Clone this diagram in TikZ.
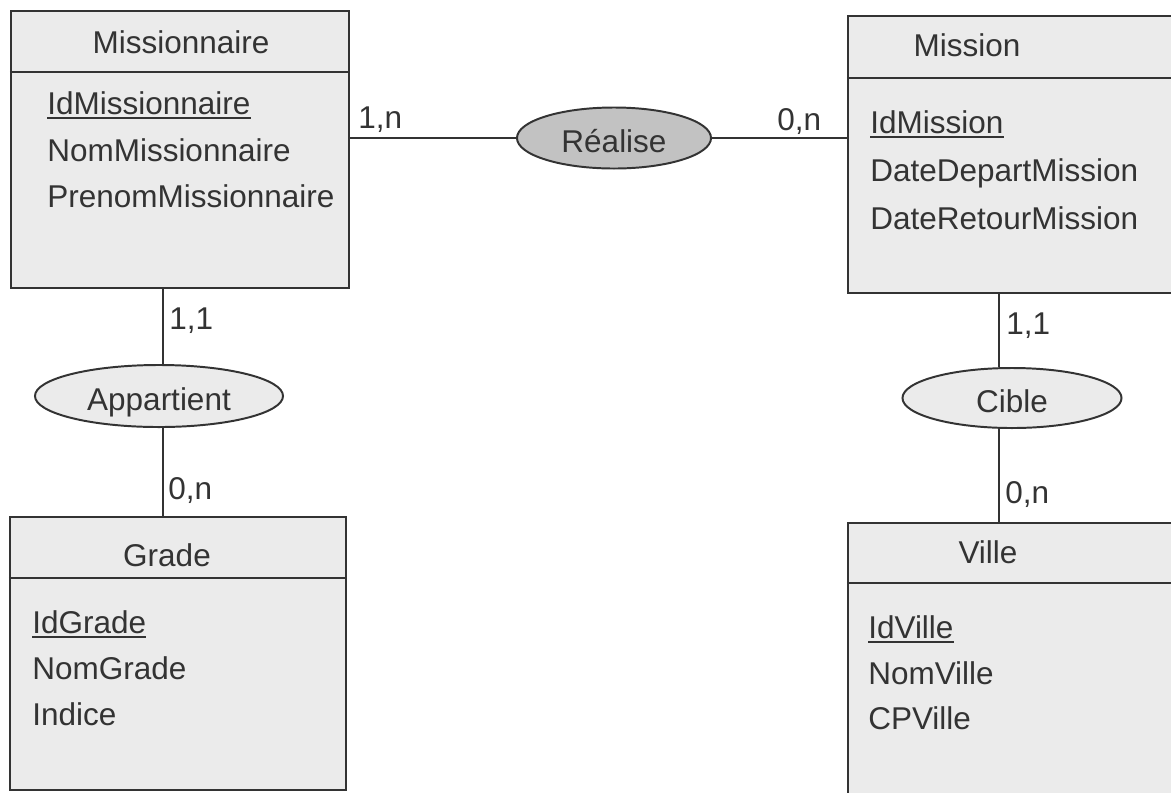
\documentclass[tikz,border=0pt]{standalone}
\usepackage{fontspec}
\setmainfont{Liberation Sans}
\usetikzlibrary{shapes.geometric}
\definecolor{inkc}{HTML}{333333}
\definecolor{boxfill}{HTML}{EBEBEB}
\definecolor{darkfill}{HTML}{C2C2C2}
\tikzset{entity/.style={draw=inkc, fill=boxfill, line width=1.4pt, inner sep=0pt},
         relation/.style={ellipse, draw=inkc, fill=boxfill, line width=1.4pt,
            inner sep=0pt, text=inkc, text height=20pt, text depth=0pt,
            font=\fontsize{22.4}{27}\selectfont},
         txt/.style={inner sep=0pt, text=inkc, font=\fontsize{22.4}{27}\selectfont},
         link/.style={draw=inkc, line width=1.3pt},
         keyline/.style={draw=inkc, line width=1.1pt}}

\begin{document}
\begin{tikzpicture}[x=0.025cm, y=-0.025cm]
        \useasboundingbox (0,0) rectangle (1171,792);

        % Entities
        \node[entity, minimum width=8.45cm, minimum height=6.925cm] (missionnaire) at (180,149.5) {};
        \node[entity, minimum width=8.425cm, minimum height=6.925cm] (mission) at (1016.5,154.5) {};
        \node[entity, minimum width=8.4cm, minimum height=6.825cm] (grade) at (178,653.5) {};
        \node[entity, minimum width=8.425cm, minimum height=6.925cm] (ville) at (1016.5,661.5) {};

        % Header lines
        \draw[link] (missionnaire.west |- 0,72) -- (missionnaire.east |- 0,72);
        \draw[link] (mission.west |- 0,78) -- (mission.east |- 0,78);
        \draw[link] (grade.west |- 0,578) -- (grade.east |- 0,578);
        \draw[link] (ville.west |- 0,583) -- (ville.east |- 0,583);

        % Titles
        \node[txt, anchor=base] (missionnaire-title) at (181,53) {Missionnaire};
        \node[txt, anchor=base] (mission-title) at (967,56) {Mission};
        \node[txt, anchor=base] (grade-title) at (167,566) {Grade};
        \node[txt, anchor=base] (ville-title) at (988,563) {Ville};

        % Attributes
        \node[txt, anchor=base west] (idmissionnaire) at (47,114) {IdMissionnaire};
        \node[txt, anchor=base west] (nommissionnaire) at (47,161) {NomMissionnaire};
        \node[txt, anchor=base west] (prenommissionnaire) at (47,207) {PrenomMissionnaire};

        \node[txt, anchor=base west] (idmission) at (870,133) {IdMission};
        \node[txt, anchor=base west] (datedepart) at (870,181) {DateDepartMission};
        \node[txt, anchor=base west] (dateretour) at (870,229) {DateRetourMission};

        \node[txt, anchor=base west] (idgrade) at (32,633) {IdGrade};
        \node[txt, anchor=base west] (nomgrade) at (32,679) {NomGrade};
        \node[txt, anchor=base west] (indice) at (32,725) {Indice};

        \node[txt, anchor=base west] (idville) at (868,638) {IdVille};
        \node[txt, anchor=base west] (nomville) at (868,684) {NomVille};
        \node[txt, anchor=base west] (cpville) at (868,729) {CPVille};

        % Keys
        \draw[keyline] ([yshift=-2.8pt]idmissionnaire.base west) -- ([yshift=-2.8pt]idmissionnaire.base east);
        \draw[keyline] ([yshift=-2.8pt]idmission.base west) -- ([yshift=-2.8pt]idmission.base east);
        \draw[keyline] ([yshift=-2.8pt]idgrade.base west) -- ([yshift=-2.8pt]idgrade.base east);
        \draw[keyline] ([yshift=-2.8pt]idville.base west) -- ([yshift=-2.8pt]idville.base east);

        % Relations
        \node[relation, fill=darkfill, minimum width=4.85cm, minimum height=1.525cm] (realise) at (614,138) {Réalise};
        \node[relation, minimum width=6.2cm, minimum height=1.55cm] (appartient) at (159,396) {Appartient};
        \node[relation, minimum width=5.475cm, minimum height=1.5cm] (cible) at (1012,398) {Cible};

        \coordinate (leftaxis) at (163,0);
        \coordinate (rightaxis) at (999,0);

        \draw[link] (realise.west) -- (realise.west -| missionnaire.east);
        \draw[link] (realise.east) -- (realise.east -| mission.west);
        \draw[link] (missionnaire.south -| leftaxis) -- (appartient.north -| leftaxis);
        \draw[link] (appartient.south -| leftaxis) -- (grade.north -| leftaxis);
        \draw[link] (mission.south -| rightaxis) -- (cible.north -| rightaxis);
        \draw[link] (cible.south -| rightaxis) -- (ville.north -| rightaxis);

        % Cardinalities
        \node[txt, anchor=base west] (card-mr) at (358,128) {1,n};
        \node[txt, anchor=base west] (card-rm) at (777,130) {0,n};
        \node[txt, anchor=base west] (card-ma) at (169,329) {1,1};
        \node[txt, anchor=base west] (card-ag) at (168,499) {0,n};
        \node[txt, anchor=base west] (card-mc) at (1006,334) {1,1};
        \node[txt, anchor=base west] (card-cv) at (1005,503) {0,n};

    \end{tikzpicture}
\end{document}
